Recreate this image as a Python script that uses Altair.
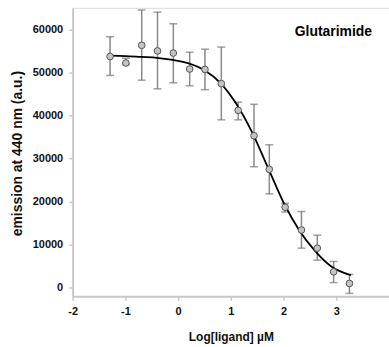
import altair as alt
import pandas as pd

# measured points
log_ligand = [-1.29, -0.99, -0.69, -0.39, -0.09, 0.22, 0.51, 0.82, 1.14, 1.44, 1.73, 2.03, 2.34, 2.64, 2.95, 3.25]
emission = [53700, 52200, 56300, 55000, 54500, 50800, 50700, 47400, 41200, 35300, 27500, 18700, 13400, 9200, 3700, 1000]
err_high = [58300, 53300, 64500, 64000, 61300, 54700, 55400, 55900, 43100, 42600, 33200, 19600, 17700, 12200, 6100, 3100]
err_low = [49300, 51800, 48200, 46200, 47600, 46900, 46000, 39000, 39000, 28100, 21800, 17600, 9200, 6400, 1200, -1300]

# fitted curve
curve_x = [-1.29, -1.0, -0.7, -0.4, -0.1, 0.2, 0.5, 0.8, 1.1, 1.4, 1.7, 2.0, 2.3, 2.6, 2.9, 3.28]
curve_y = [53900, 53800, 53600, 53400, 52900, 52100, 50500, 47600, 42800, 36200, 28000, 19800, 13300, 8500, 5000, 2900]

x_ticks = [-2, -1, 0, 1, 2, 3]
y_ticks = [0, 10000, 20000, 30000, 40000, 50000, 60000]

pts = pd.DataFrame({"x": log_ligand, "y": emission, "hi": err_high, "lo": err_low})
crv = pd.DataFrame({"x": curve_x, "y": curve_y})

FONT = "Liberation Sans"

xscale = alt.Scale(domain=[-2, 4], nice=False, zero=False)
yscale = alt.Scale(domain=[-2000, 65000], nice=False, zero=False)

xenc = alt.X("x:Q", scale=xscale, axis=alt.Axis(
    values=x_ticks, title="Log[ligand] µM", grid=False, domainColor="#c8c8c8", domainWidth=2,
    tickColor="#c8c8c8", tickSize=4, tickWidth=1.5, labelFont=FONT, labelFontSize=11, labelFontWeight="bold",
    labelColor="#111111", labelPadding=5, titleFont=FONT, titleFontSize=12, titleFontWeight="bold",
    titleColor="#111111", titleBaseline="middle", titleY=40, labelFlush=False,
    labelExpr="'' + datum.value"))

yaxis = alt.Axis(
    values=y_ticks, title="emission at 440 nm (a.u.)", grid=False, domainColor="#c8c8c8", domainWidth=2,
    tickColor="#c8c8c8", tickSize=4, tickWidth=1.5, labelFont=FONT, labelFontSize=11, labelFontWeight="bold",
    labelColor="#111111", labelPadding=6, titleFont=FONT, titleFontSize=14, titleFontWeight="bold",
    titleColor="#111111", titleBaseline="middle", titleX=-55, titleY=146, titleAngle=-90,
    labelExpr="'' + datum.value")

base = alt.Chart(pts)

bars = base.mark_rule(color="#888888", strokeWidth=1.5).encode(
    x=xenc, y=alt.Y("lo:Q", scale=yscale, axis=yaxis), y2="hi:Q")
cap_hi = base.mark_tick(color="#777777", thickness=1.5, size=8, orient="horizontal").encode(
    x="x:Q", y="hi:Q")
cap_lo = base.mark_tick(color="#777777", thickness=1.5, size=8, orient="horizontal").encode(
    x="x:Q", y="lo:Q")

line = alt.Chart(crv).mark_line(color="#000000", strokeWidth=1.8, interpolate="monotone").encode(
    x="x:Q", y="y:Q")

dots = base.mark_point(filled=True, fill="#c4c4c4", stroke="#555555", strokeWidth=1, size=45,
                       opacity=1, shape="circle").encode(x="x:Q", y="y:Q")

label = alt.Chart(pd.DataFrame({"t": ["Glutarimide"]})).mark_text(
    font=FONT, fontSize=14, fontWeight="bold", align="right", baseline="alphabetic", color="#000000"
).encode(text="t:N", x=alt.value(301), y=alt.value(28))

chart = alt.layer(bars, cap_hi, cap_lo, line, dots, label).properties(
    width=318, height=290,
    autosize=alt.AutoSizeParams(type="none"),
    padding={"left": 73, "top": 7, "right": 0, "bottom": 50},
).configure_view(stroke="#d0d0d0", strokeWidth=2).configure(background="white")

chart.save("out.html", embed_options={"renderer": "svg", "actions": False})
